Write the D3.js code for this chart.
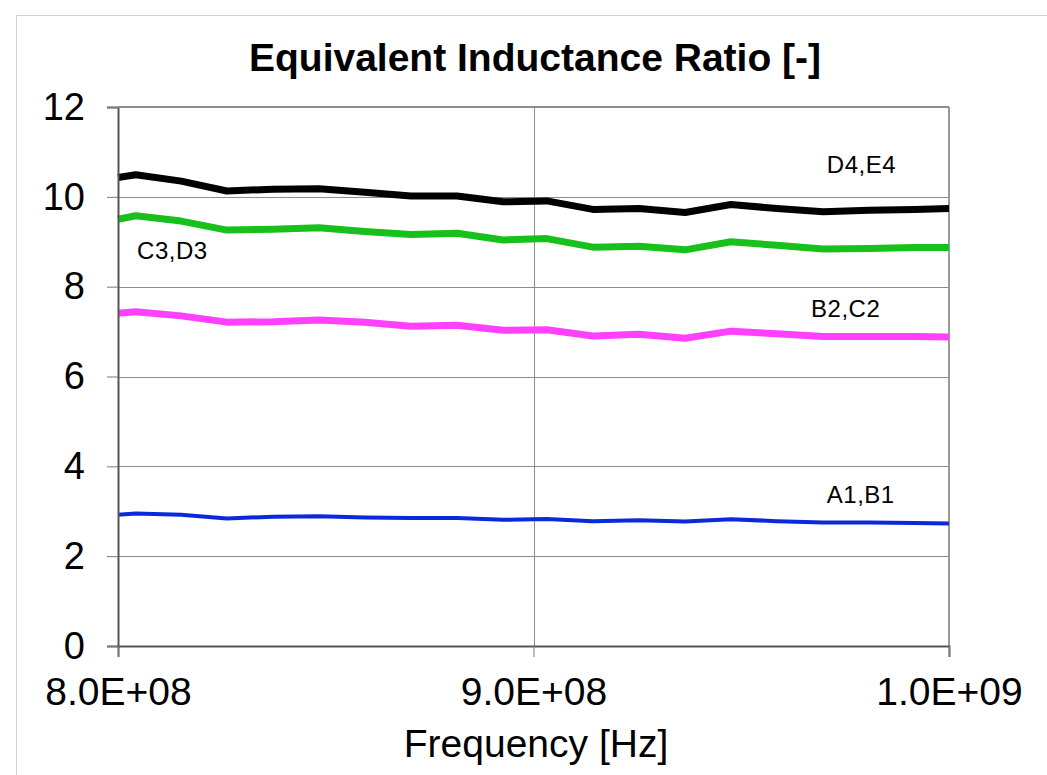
<!DOCTYPE html>
<html>
<head>
<meta charset="utf-8">
<script src="https://cdn.jsdelivr.net/npm/d3@7"></script>
<style>
	body { margin: 0; background: #fff; }
	svg { display: block; font-family: "Liberation Sans", Arial, sans-serif; }
</style>
</head>
<body>
<svg id="chart" width="1047" height="775"></svg>
<script>
// frequencies (Hz)
var freqs = [800.0e6, 804.3e6, 815.2e6, 826.2e6, 837.3e6, 848.4e6, 859.4e6, 870.5e6, 881.6e6, 892.7e6,
	903.2e6, 914.3e6, 925.4e6, 936.5e6, 947.5e6, 958.6e6, 969.7e6, 980.7e6, 991.8e6, 1000.0e6];

var d4e4 = [10.43, 10.49, 10.35, 10.13, 10.17, 10.18, 10.10, 10.02, 10.02, 9.89,
	9.91, 9.72, 9.74, 9.65, 9.83, 9.74, 9.67, 9.70, 9.72, 9.74];
var c3d3 = [9.50, 9.58, 9.46, 9.26, 9.28, 9.31, 9.23, 9.16, 9.19, 9.04,
	9.07, 8.88, 8.90, 8.82, 9.00, 8.92, 8.84, 8.85, 8.87, 8.87];
var b2c2 = [7.41, 7.44, 7.35, 7.21, 7.22, 7.26, 7.21, 7.12, 7.14, 7.03,
	7.04, 6.90, 6.94, 6.85, 7.01, 6.95, 6.89, 6.89, 6.89, 6.88];
var a1b1 = [2.92, 2.95, 2.92, 2.84, 2.88, 2.89, 2.86, 2.85, 2.85, 2.81,
	2.83, 2.78, 2.80, 2.77, 2.82, 2.78, 2.75, 2.75, 2.74, 2.73];

var seriesNames = ["A1,B1", "B2,C2", "C3,D3", "D4,E4"];
var seriesValues = [a1b1, b2c2, c3d3, d4e4];

var yTicks = [0, 2, 4, 6, 8, 10, 12];
var xTicks = [8e8, 9e8, 1e9];
var xTickLabels = ["8.0E+08", "9.0E+08", "1.0E+09"];

// styling, kept apart from the data
var colors = { "A1,B1": "#0a28dc", "B2,C2": "#ff40ff", "C3,D3": "#18c01c", "D4,E4": "#000000" };
var widths = { "A1,B1": 4, "B2,C2": 7, "C3,D3": 7, "D4,E4": 7 };
// where each series label sits: [frequency, value]
var labelPos = { "A1,B1": [9.706e8, 3.18], "B2,C2": [9.668e8, 7.32], "C3,D3": [8.046e8, 8.62], "D4,E4": [9.706e8, 10.53] };

var svg = d3.select("#chart");

// outer chart frame
svg.append("rect")
	.attr("x", 16.5).attr("y", 15.5)
	.attr("width", 1100).attr("height", 900)
	.attr("fill", "none")
	.attr("stroke", "#d4d4d4");

var plotLeft = 118, plotRight = 949, plotTop = 107, plotBottom = 646;

var x = d3.scaleLinear().domain([8e8, 1e9]).range([plotLeft, plotRight]);
var y = d3.scaleLinear().domain([0, 12]).range([plotBottom, plotTop]);

// gridlines
svg.append("g")
	.selectAll("line")
	.data(yTicks.filter(function (d) { return d > 0; }))
	.enter().append("line")
	.attr("x1", plotLeft).attr("x2", plotRight)
	.attr("y1", function (d) { return Math.round(y(d)) + 0.5; })
	.attr("y2", function (d) { return Math.round(y(d)) + 0.5; })
	.attr("stroke", "#8c8c8c").attr("stroke-width", 1);

svg.append("line")
	.attr("x1", Math.round(x(9e8)) + 0.5).attr("x2", Math.round(x(9e8)) + 0.5)
	.attr("y1", plotTop).attr("y2", plotBottom)
	.attr("stroke", "#8c8c8c").attr("stroke-width", 1);

// right border
svg.append("line")
	.attr("x1", plotRight).attr("x2", plotRight)
	.attr("y1", plotTop).attr("y2", plotBottom)
	.attr("stroke", "#9a9a9a").attr("stroke-width", 2);

// series lines
var line = d3.line()
	.x(function (d) { return x(d[0]); })
	.y(function (d) { return y(d[1]); });

seriesNames.forEach(function (name, i) {
	var pts = freqs.map(function (f, j) { return [f, seriesValues[i][j]]; });
	svg.append("path")
		.datum(pts)
		.attr("d", line)
		.attr("fill", "none")
		.attr("stroke", colors[name])
		.attr("stroke-width", widths[name])
		.attr("stroke-linejoin", "round");

	svg.append("text")
		.attr("x", x(labelPos[name][0]))
		.attr("y", y(labelPos[name][1]))
		.attr("font-size", 24)
		.attr("letter-spacing", 0.5)
		.attr("fill", "#000")
		.text(name);
});

// axes
var yAxis = d3.axisLeft(y)
	.tickValues(yTicks)
	.tickSize(11)
	.tickPadding(22)
	.tickFormat(d3.format("d"));
var gy = svg.append("g")
	.attr("transform", "translate(" + plotLeft + ",0)")
	.call(yAxis);
gy.select(".domain").attr("stroke", "#555").attr("stroke-width", 2);
gy.selectAll(".tick line").attr("stroke", "#777");
gy.selectAll(".tick text").attr("font-size", 38).attr("font-family", "Liberation Sans, Arial, sans-serif").attr("fill", "#000");

var xAxis = d3.axisBottom(x)
	.tickValues(xTicks)
	.tickSize(11)
	.tickPadding(20)
	.tickFormat(function (d, i) { return xTickLabels[i]; });
var gx = svg.append("g")
	.attr("transform", "translate(0," + plotBottom + ")")
	.call(xAxis);
gx.select(".domain").attr("stroke", "#555").attr("stroke-width", 2);
gx.selectAll(".tick line").attr("stroke", "#777");
gx.selectAll(".tick text").attr("font-size", 39).attr("font-family", "Liberation Sans, Arial, sans-serif").attr("fill", "#000");

// top border
svg.append("line")
	.attr("x1", plotLeft).attr("x2", plotRight)
	.attr("y1", plotTop).attr("y2", plotTop)
	.attr("stroke", "#8c8c8c").attr("stroke-width", 2);

// titles
svg.append("text")
	.attr("x", 535).attr("y", 71)
	.attr("text-anchor", "middle")
	.attr("font-size", 39)
	.attr("font-weight", "bold")
	.text("Equivalent Inductance Ratio [-]");

svg.append("text")
	.attr("x", 536).attr("y", 757)
	.attr("text-anchor", "middle")
	.attr("font-size", 39)
	.text("Frequency [Hz]");
</script>
</body>
</html>
